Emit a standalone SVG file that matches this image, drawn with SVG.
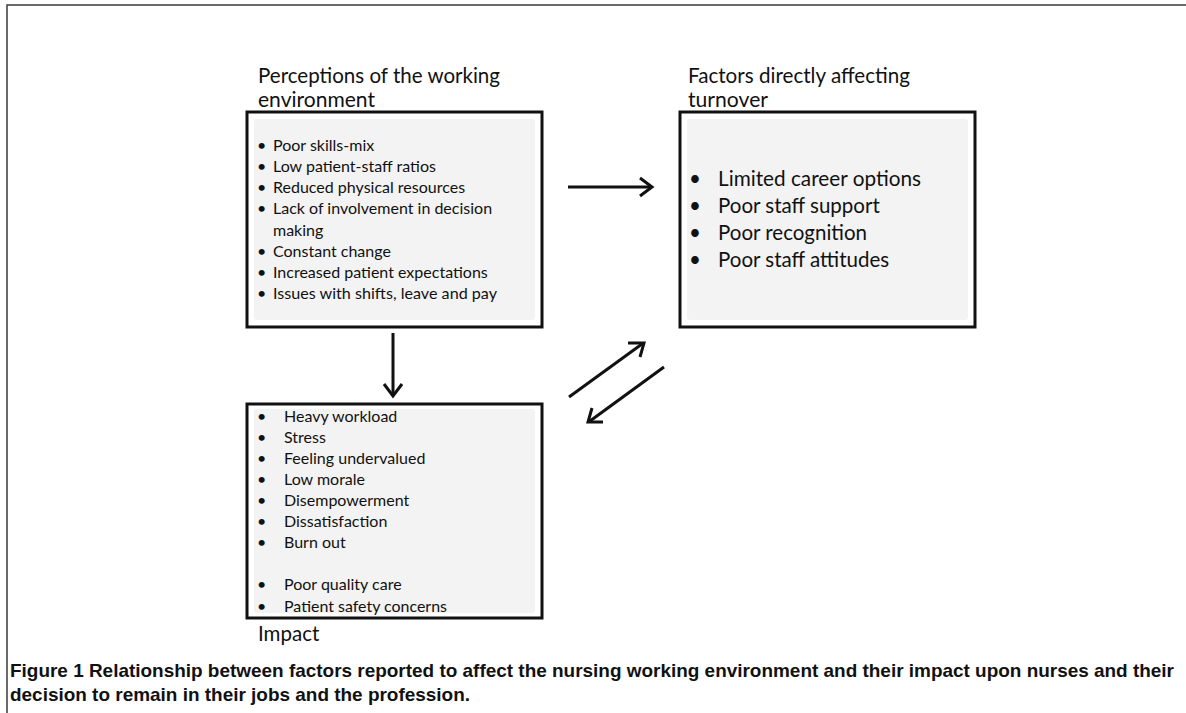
<svg xmlns="http://www.w3.org/2000/svg" width="1186" height="713" viewBox="0 0 1186 713">
<defs>
<style>
.frame{fill:none;stroke:#3a3a3a;stroke-width:1.5}
.box{fill:#ffffff;stroke:#111;stroke-width:3}
.inner{fill:#f3f3f3}
.hd{font-family:Lato,"Open Sans",sans-serif;font-size:20.5px;fill:#111}
.t1{font-family:Lato,"Open Sans",sans-serif;font-size:16px;fill:#111}
.t3{font-family:Lato,"Open Sans",sans-serif;font-size:20.5px;fill:#111}
.cap{font-family:"Liberation Sans Narrow","Liberation Sans",sans-serif;font-weight:bold;font-size:19px;fill:#111}
.arr{fill:none;stroke:#111;stroke-width:3;stroke-linecap:butt}
.head{fill:none;stroke:#111;stroke-width:3;stroke-linejoin:miter;stroke-linecap:butt}
</style>
</defs>
<rect width="1186" height="713" fill="#ffffff"/>
<path class="frame" d="M7,713 L7,5 L1186,5"/>

<g id="node-perceptions">
<text class="hd" x="258" y="83" textLength="242" lengthAdjust="spacingAndGlyphs">Perceptions of the working</text>
<text class="hd" x="258" y="107" textLength="117" lengthAdjust="spacingAndGlyphs">environment</text>
<rect class="box" x="247" y="112" width="295" height="215"/>
<rect class="inner" x="254" y="119" width="281" height="201" rx="3"/>
<g class="t1">
<text x="257" y="151">•</text><text x="273" y="151">Poor skills-mix</text>
<text x="257" y="172">•</text><text x="273" y="172">Low patient-staff ratios</text>
<text x="257" y="193">•</text><text x="273" y="193">Reduced physical resources</text>
<text x="257" y="214">•</text><text x="273" y="214">Lack of involvement in decision</text>
<text x="273" y="235.5">making</text>
<text x="257" y="257">•</text><text x="273" y="257">Constant change</text>
<text x="257" y="278">•</text><text x="273" y="278">Increased patient expectations</text>
<text x="257" y="299">•</text><text x="273" y="299" textLength="224" lengthAdjust="spacingAndGlyphs">Issues with shifts, leave and pay</text>
</g>
</g>

<g id="node-turnover">
<text class="hd" x="688" y="83" textLength="222" lengthAdjust="spacingAndGlyphs">Factors directly affecting</text>
<text class="hd" x="688" y="107" textLength="80" lengthAdjust="spacingAndGlyphs">turnover</text>
<rect class="box" x="680" y="112" width="295" height="215"/>
<rect class="inner" x="687" y="119" width="281" height="201" rx="3"/>
<g class="t3">
<text x="689" y="186">•</text><text x="718" y="186" textLength="203" lengthAdjust="spacingAndGlyphs">Limited career options</text>
<text x="689" y="213">•</text><text x="718" y="213">Poor staff support</text>
<text x="689" y="240">•</text><text x="718" y="240">Poor recognition</text>
<text x="689" y="267">•</text><text x="718" y="267">Poor staff attitudes</text>
</g>
</g>

<g id="node-impact">
<rect class="box" x="247" y="404" width="295" height="214"/>
<rect class="inner" x="254" y="409" width="281" height="204" rx="3"/>
<g class="t1">
<text x="257" y="422">•</text><text x="284" y="422">Heavy workload</text>
<text x="257" y="443">•</text><text x="284" y="443">Stress</text>
<text x="257" y="464">•</text><text x="284" y="464">Feeling undervalued</text>
<text x="257" y="485">•</text><text x="284" y="485">Low morale</text>
<text x="257" y="506">•</text><text x="284" y="506">Disempowerment</text>
<text x="257" y="527">•</text><text x="284" y="527">Dissatisfaction</text>
<text x="257" y="548">•</text><text x="284" y="548">Burn out</text>
<text x="257" y="590">•</text><text x="284" y="590">Poor quality care</text>
<text x="257" y="611.5">•</text><text x="284" y="611.5" textLength="163" lengthAdjust="spacingAndGlyphs">Patient safety concerns</text>
</g>
<text class="hd" x="258" y="641">Impact</text>
</g>

<g id="connectors">
<line class="arr" x1="568" y1="187" x2="650" y2="187"/>
<path class="head" d="M640,178 L652,187 L640,196"/>
<line class="arr" x1="393" y1="333" x2="393" y2="394"/>
<path class="head" d="M384,384 L393,396 L402,384"/>
<line class="arr" x1="569" y1="397" x2="642" y2="344"/>
<path class="head" d="M628,343 L644,343 L640,357"/>
<line class="arr" x1="664" y1="367" x2="590" y2="421"/>
<path class="head" d="M592,408 L588,422 L603,422"/>
</g>

<g id="caption">
<text class="cap" x="10" y="677" textLength="1164" lengthAdjust="spacingAndGlyphs">Figure 1 Relationship between factors reported to affect the nursing working environment and their impact upon nurses and their</text>
<text class="cap" x="10" y="701" textLength="460" lengthAdjust="spacingAndGlyphs">decision to remain in their jobs and the profession.</text>
</g>
</svg>
